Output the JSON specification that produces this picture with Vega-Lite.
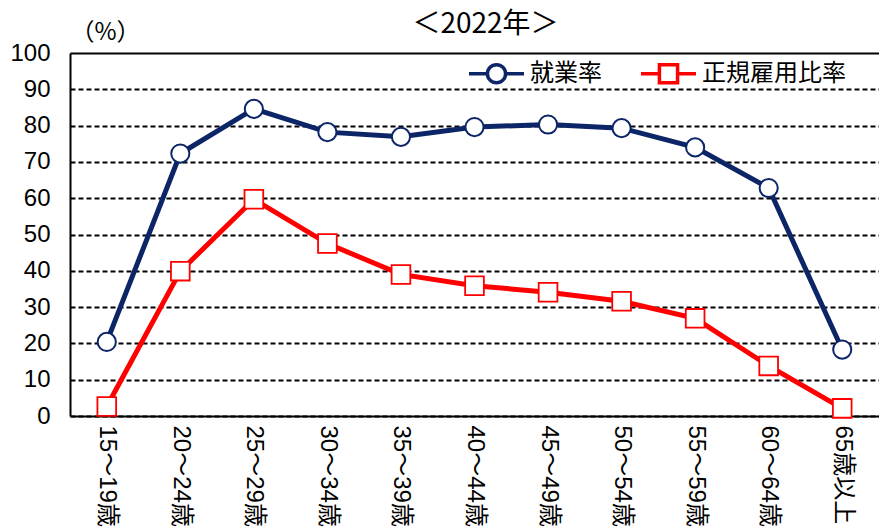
{
  "$schema": "https://vega.github.io/schema/vega-lite/v6.json",
  "width": 809,
  "height": 363,
  "autosize": {"type": "none"},
  "padding": {"left": 70, "top": 53, "right": 0, "bottom": 116},
  "background": "white",
  "config": {"view": {"stroke": null}, "font": "Liberation Sans, Noto Sans CJK JP"},
  "title": {"text": "＜2022年＞", "fontSize": 28, "font": "Noto Sans CJK JP", "fontWeight": "normal", "color": "black", "offset": -19, "dx": 11},
  "data": {"values": [
    {"age": "15～19歳", "series": "就業率", "value": 20.4, "order": 1},
    {"age": "20～24歳", "series": "就業率", "value": 72.3, "order": 2},
    {"age": "25～29歳", "series": "就業率", "value": 84.6, "order": 3},
    {"age": "30～34歳", "series": "就業率", "value": 78.2, "order": 4},
    {"age": "35～39歳", "series": "就業率", "value": 76.9, "order": 5},
    {"age": "40～44歳", "series": "就業率", "value": 79.6, "order": 6},
    {"age": "45～49歳", "series": "就業率", "value": 80.3, "order": 7},
    {"age": "50～54歳", "series": "就業率", "value": 79.3, "order": 8},
    {"age": "55～59歳", "series": "就業率", "value": 74.0, "order": 9},
    {"age": "60～64歳", "series": "就業率", "value": 62.8, "order": 10},
    {"age": "65歳以上", "series": "就業率", "value": 18.3, "order": 11},
    {"age": "15～19歳", "series": "正規雇用比率", "value": 2.6, "order": 1},
    {"age": "20～24歳", "series": "正規雇用比率", "value": 39.9, "order": 2},
    {"age": "25～29歳", "series": "正規雇用比率", "value": 59.7, "order": 3},
    {"age": "30～34歳", "series": "正規雇用比率", "value": 47.5, "order": 4},
    {"age": "35～39歳", "series": "正規雇用比率", "value": 39.0, "order": 5},
    {"age": "40～44歳", "series": "正規雇用比率", "value": 35.9, "order": 6},
    {"age": "45～49歳", "series": "正規雇用比率", "value": 34.1, "order": 7},
    {"age": "50～54歳", "series": "正規雇用比率", "value": 31.6, "order": 8},
    {"age": "55～59歳", "series": "正規雇用比率", "value": 26.9, "order": 9},
    {"age": "60～64歳", "series": "正規雇用比率", "value": 13.8, "order": 10},
    {"age": "65歳以上", "series": "正規雇用比率", "value": 2.1, "order": 11}
  ]},
  "encoding": {
    "x": {
      "field": "age", "type": "ordinal",
      "sort": ["15～19歳", "20～24歳", "25～29歳", "30～34歳", "35～39歳", "40～44歳", "45～49歳", "50～54歳", "55～59歳", "60～64歳", "65歳以上"],
      "scale": {"type": "point", "padding": 0.5},
      "axis": {
        "title": null, "domainColor": "black", "domainWidth": 2, "ticks": false, "grid": false,
        "labelAngle": 90, "labelAlign": "left", "labelBaseline": "middle", "labelPadding": 9,
        "labelFontSize": 24, "labelColor": "black", "labelFont": "Liberation Sans, Noto Sans CJK JP"
      }
    },
    "y": {
      "field": "value", "type": "quantitative",
      "scale": {"domain": [0, 100], "nice": false},
      "axis": {
        "values": [0, 10, 20, 30, 40, 50, 60, 70, 80, 90, 100],
        "domainColor": "black", "domainWidth": 2, "ticks": false,
        "grid": true, "gridColor": "black", "gridWidth": 2,
        "gridDash": {"condition": {"test": "datum.value === 100", "value": []}, "value": [5, 3]},
        "labelFontSize": 24, "labelColor": "black", "labelPadding": 20, "labelFont": "Liberation Sans",
        "title": "（%）", "titleAngle": 0, "titleX": 35, "titleY": -21, "titleAlign": "center",
        "titleBaseline": "middle", "titleFontSize": 24, "titleFontWeight": "normal",
        "titleFont": "Noto Sans CJK JP", "titleColor": "black"
      }
    },
    "order": {"field": "order", "type": "quantitative"},
    "stroke": {"field": "series", "type": "nominal",
      "scale": {"domain": ["就業率", "正規雇用比率"], "range": ["#0b2566", "#ff0000"]},
      "legend": {
        "title": null, "orient": "none", "direction": "horizontal", "legendX": 397, "legendY": -9,
        "symbolSize": 3025, "symbolFillColor": "white", "symbolStrokeWidth": 3.5, "symbolOpacity": 1,
        "labelFontSize": 24, "labelFont": "Noto Sans CJK JP", "labelColor": "black",
        "labelOffset": 4, "columnPadding": 32, "padding": 0
      }
    }
  },
  "layer": [
    {
      "mark": {"type": "line", "strokeWidth": 5}
    },
    {
      "transform": [{"filter": "datum.series === '就業率'"}],
      "mark": {"type": "point", "shape": "circle", "filled": true, "fill": "white", "strokeWidth": 2, "opacity": 1, "size": 330}
    },
    {
      "transform": [{"filter": "datum.series === '正規雇用比率'"}],
      "mark": {"type": "point", "shape": "square", "filled": true, "fill": "white", "strokeWidth": 1.8, "opacity": 1, "size": 350}
    },
    {
      "mark": {"type": "point", "filled": true, "fill": "white", "opacity": 0, "size": 10},
      "encoding": {
        "shape": {"field": "series", "type": "nominal",
          "scale": {"domain": ["就業率", "正規雇用比率"], "range": [
            "M-1,0L-0.33,0M0.33,0L1,0M0.33,0A0.33,0.33,0,1,1,-0.33,0A0.33,0.33,0,1,1,0.33,0",
            "M-1,0L-0.33,0M0.33,0L1,0M-0.33,-0.33L0.33,-0.33L0.33,0.33L-0.33,0.33Z"
          ]},
          "legend": {
            "title": null, "orient": "none", "direction": "horizontal", "legendX": 397, "legendY": -9,
            "symbolSize": 3025, "symbolFillColor": "white", "symbolStrokeWidth": 3.5, "symbolOpacity": 1,
            "labelFontSize": 24, "labelFont": "Noto Sans CJK JP", "labelColor": "black",
            "labelOffset": 4, "columnPadding": 32, "padding": 0
          }}
      }
    }
  ]
}
